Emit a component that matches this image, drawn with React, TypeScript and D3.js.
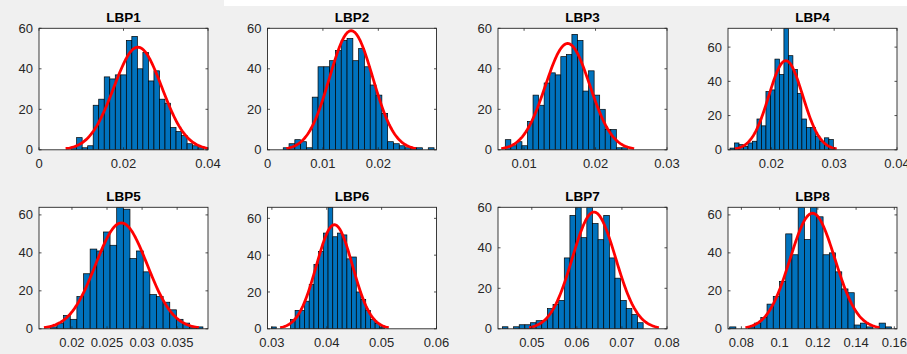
import React from "react"
import * as d3 from "d3"

// panel titles
const titles = ["LBP1", "LBP2", "LBP3", "LBP4", "LBP5", "LBP6", "LBP7", "LBP8"]

// histogram counts per panel
const countsLBP1 = [1, 6, 1, 2, 22, 25, 36, 35, 37, 37, 54, 56, 40, 48, 34, 39, 25, 23, 11, 9, 7, 3, 2, 1]
const countsLBP2 = [1, 3, 5, 4, 1, 26, 41, 41, 44, 49, 54, 55, 44, 50, 41, 32, 27, 18, 4, 3, 2, 1, 1, 1, 0, 1]
const countsLBP3 = [5, 2, 4, 2, 14, 27, 22, 33, 38, 37, 46, 47, 57, 54, 29, 39, 27, 20, 10, 10, 1, 1]
const countsLBP4 = [1, 4, 3, 2, 4, 5, 18, 14, 34, 35, 53, 44, 71, 55, 47, 33, 18, 13, 13, 8, 5, 7, 6]
const countsLBP5 = [1, 3, 7, 5, 17, 29, 42, 41, 51, 44, 64, 63, 37, 41, 30, 18, 17, 14, 10, 5, 3, 1, 1]
const countsLBP6 = [1, 0, 0, 0, 5, 10, 10, 15, 24, 35, 42, 52, 66, 50, 52, 51, 38, 39, 20, 16, 10, 5, 3, 1]
const countsLBP7 = [1, 0, 1, 2, 2, 3, 4, 4, 10, 12, 14, 35, 56, 60, 45, 60, 52, 44, 56, 35, 25, 14, 10, 7, 3]
const countsLBP8 = [1, 0, 0, 1, 3, 6, 13, 17, 25, 50, 39, 64, 47, 64, 59, 39, 40, 30, 21, 19, 2, 3, 1, 0, 3, 1]

// first bin edge and bin width
const binStart = [0.0076, 0.00284, 0.00737, 0.01342, 0.01692, 0.02994, 0.04346, 0.07387]
const binWidth = [0.001307, 0.001047, 0.000777, 0.000715, 0.000946, 0.000858, 0.00125, 0.003258]

// fitted normal (mean, std)
const fitMu = [0.0234, 0.0151, 0.0161, 0.0223, 0.02705, 0.0414, 0.0638, 0.1172]
const fitSigma = [0.0057, 0.0039, 0.0031, 0.0027, 0.00368, 0.0033, 0.0048, 0.0117]

// axis limits and ticks
const xLimits = [[0, 0.04], [0, 0.0305], [0.00635, 0.03], [0.0131, 0.04], [0.0153, 0.0394], [0.0292, 0.06], [0.0425, 0.08], [0.073, 0.1614]]
const yLimitTop = [60, 60, 60, 71, 64, 66, 60, 64]
const xTickValues = [
  [0, 0.02, 0.04],
  [0, 0.01, 0.02],
  [0.01, 0.02, 0.03],
  [0.02, 0.03, 0.04],
  [0.02, 0.025, 0.03, 0.035],
  [0.03, 0.04, 0.05, 0.06],
  [0.05, 0.06, 0.07, 0.08],
  [0.08, 0.1, 0.12, 0.14, 0.16],
]
const yTickValues = [0, 20, 40, 60]

const allCounts = [countsLBP1, countsLBP2, countsLBP3, countsLBP4, countsLBP5, countsLBP6, countsLBP7, countsLBP8]

const W = 907
const H = 354
const colLeft = [39, 267.5, 498, 728]
const rowTop = [28.3, 207.3]
const axW = 169
const axH = 121.5
const font = "'Liberation Sans', Arial, Helvetica, sans-serif"
const axisColor = "#262626"
const tickLen = 2.5

const fmt = (v: number) => String(+v.toFixed(4))

const Panel = ({ i }: { i: number }) => {
  const left = colLeft[i % 4]
  const top = rowTop[Math.floor(i / 4)]
  const x = d3.scaleLinear().domain(xLimits[i]).range([0, axW])
  const y = d3.scaleLinear().domain([0, yLimitTop[i]]).range([axH, 0])

  const counts = allCounts[i]
  const w = binWidth[i]
  const n = d3.sum(counts)
  const mu = fitMu[i]
  const sd = fitSigma[i]

  // histfit draws the pdf over mu +- 3 sigma scaled to the histogram area
  const xs = d3.range(0, 121).map(k => mu - 3 * sd + (6 * sd * k) / 120)
  const pdf = (v: number) => (n * w * Math.exp(-0.5 * ((v - mu) / sd) ** 2)) / (sd * Math.sqrt(2 * Math.PI))
  const line = d3.line<number>().x(v => x(v)).y(v => y(pdf(v)))

  const clipId = `clip-${i}`

  return (
    <g transform={`translate(${left},${top})`}>
      <defs>
        <clipPath id={clipId}>
          <rect x={0} y={0} width={axW} height={axH} />
        </clipPath>
      </defs>
      <rect x={0} y={0} width={axW} height={axH} fill="#ffffff" />
      <g clipPath={`url(#${clipId})`}>
        {counts.map((c, k) => {
          if (c === 0) return null
          const x0 = x(binStart[i] + k * w)
          const x1 = x(binStart[i] + (k + 1) * w)
          return (
            <rect key={k} x={x0} y={y(c)} width={x1 - x0} height={axH - y(c)}
              fill="#0072BD" stroke="#000000" strokeWidth={0.7} />
          )
        })}
        <path d={line(xs) || ""} fill="none" stroke="#FF0000" strokeWidth={2.8} strokeLinejoin="round" />
      </g>
      {/* ticks, inward on all four sides */}
      {xTickValues[i].filter(v => v >= xLimits[i][0] && v <= xLimits[i][1] + 1e-9).map(v => (
        <g key={`xt${v}`}>
          <line x1={x(v)} x2={x(v)} y1={axH} y2={axH - tickLen} stroke={axisColor} strokeWidth={0.8} />
          <line x1={x(v)} x2={x(v)} y1={0} y2={tickLen} stroke={axisColor} strokeWidth={0.8} />
        </g>
      ))}
      {yTickValues.map(v => (
        <g key={`yt${v}`}>
          <line x1={0} x2={tickLen} y1={y(v)} y2={y(v)} stroke={axisColor} strokeWidth={0.8} />
          <line x1={axW} x2={axW - tickLen} y1={y(v)} y2={y(v)} stroke={axisColor} strokeWidth={0.8} />
        </g>
      ))}
      <rect x={0} y={0} width={axW} height={axH} fill="none" stroke={axisColor} strokeWidth={0.9} />
      {xTickValues[i].map(v => (
        <text key={`xl${v}`} x={x(v)} y={axH + 18} textAnchor="middle" fontSize={13}
          fontFamily={font} fill={axisColor}>{fmt(v)}</text>
      ))}
      {yTickValues.map(v => (
        <text key={`yl${v}`} x={-6} y={y(v)} dy="0.35em" textAnchor="end" fontSize={13}
          fontFamily={font} fill={axisColor}>{v}</text>
      ))}
      <text x={axW / 2} y={-6.5} textAnchor="middle" fontSize={13.5} fontWeight="bold"
        fontFamily={font} fill="#000000">{titles[i]}</text>
    </g>
  )
}

export default function App() {
  return (
    <div style={{ position: "fixed", left: 0, top: 0 }}>
      <svg width={W} height={H} style={{ display: "block" }}>
        <rect x={0} y={0} width={W} height={H} fill="#F0F0F0" />
        <rect x={224} y={0} width={W - 224} height={6} fill="#ffffff" />
        {titles.map((_, i) => <Panel key={i} i={i} />)}
      </svg>
    </div>
  )
}
